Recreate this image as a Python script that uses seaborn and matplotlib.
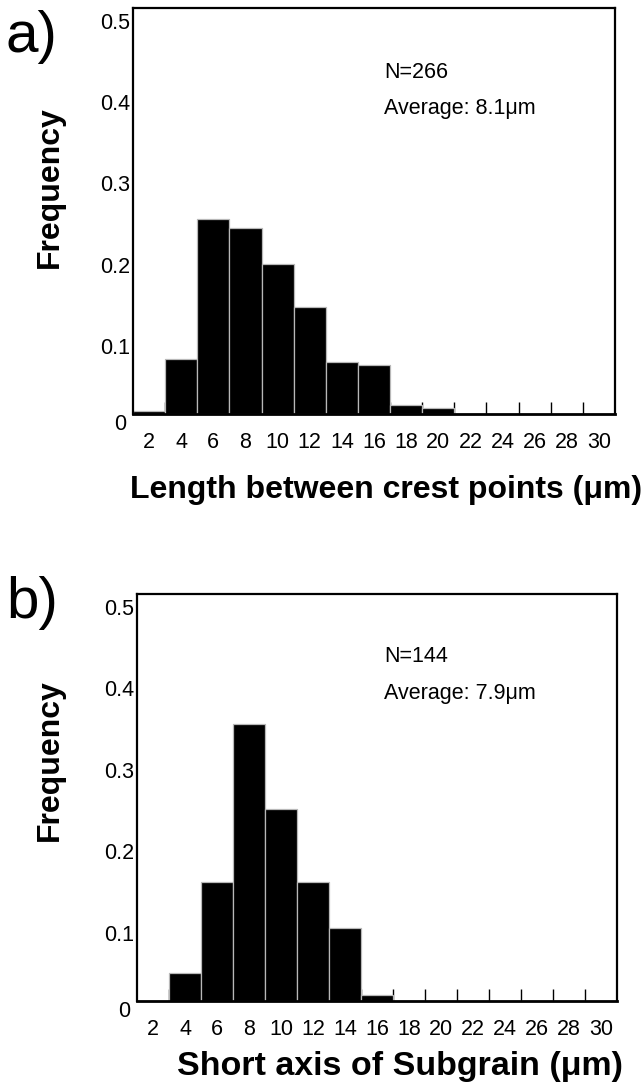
import matplotlib
matplotlib.use("Agg")
import matplotlib.pyplot as plt
import matplotlib.transforms as mtransforms
from matplotlib.ticker import FixedLocator
import seaborn as sns

# Bin labels (µm) shared by both histograms
bins = ["2", "4", "6", "8", "10", "12", "14", "16", "18", "20",
        "22", "24", "26", "28", "30"]

# a) length between crest points, N=266 (counts / N)
freq_crest = [1/266, 18/266, 64/266, 61/266, 49/266, 35/266, 17/266,
              16/266, 3/266, 2/266, 0, 0, 0, 0, 0]
# b) short axis of subgrain, N=144 (counts / N)
freq_sub = [0, 5/144, 21/144, 49/144, 34/144, 21/144, 13/144,
            1/144, 0, 0, 0, 0, 0, 0, 0]

panel_tags = ["a)", "b)"]
xlabels = ["Length between crest points (\u03bcm)",
           "Short axis of Subgrain (\u03bcm)"]
n_texts = ["N=266", "N=144"]
avg_texts = ["Average: 8.1\u03bcm", "Average: 7.9\u03bcm"]
yticks = [0, 0.1, 0.2, 0.3, 0.4, 0.5]
ytick_labels = ["0", "0.1", "0.2", "0.3", "0.4", "0.5"]

sns.set_theme(style="white")
plt.rcParams["font.family"] = ["Liberation Sans", "DejaVu Sans"]

W, H = 642, 1086
fig = plt.figure(figsize=(W / 100, H / 100), dpi=100)


def box(l, t, r, b):
    return [l / W, 1 - b / H, (r - l) / W, (b - t) / H]


def fx(px):
    return px / W


def fy(py):
    return 1 - py / H


panels = [
    dict(box=box(133, 8, 615, 414), data=freq_crest,
         xlab_xy=(386, 490), xlab_fs=23, ylab_xy=(50, 187),
         tag_xy=(6, 10), n_y=78, avg_y=114),
    dict(box=box(137, 594, 617, 1001), data=freq_sub,
         xlab_xy=(400, 1067), xlab_fs=24.5, ylab_xy=(50, 760),
         tag_xy=(6, 576), n_y=662, avg_y=699),
]

tick_fs = 15.5
label_fs = 23

for k, p in enumerate(panels):
    ax = fig.add_axes(p["box"])
    sns.barplot(x=bins, y=p["data"], order=bins, color="black",
                saturation=1, width=1.0, edgecolor="#b8b8b8",
                linewidth=0.9, ax=ax)
    ax.set_xlim(-0.5, len(bins) - 0.5)
    ax.set_ylim(0, 0.5)
    ax.set_axisbelow(True)
    ax.grid(False)
    for sp in ax.spines.values():
        sp.set_visible(True)
        sp.set_color("black")
        sp.set_linewidth(1.6)
    ax.spines["bottom"].set_linewidth(2.0)

    # y ticks pointing inward, labels sitting just below each tick
    ax.set_yticks(yticks)
    ax.set_yticklabels(ytick_labels, fontsize=tick_fs)
    ax.tick_params(axis="y", direction="in", length=8, width=1.0,
                   color="black", pad=2, labelcolor="black")
    for lab in ax.get_yticklabels():
        if lab.get_text() == "0":
            dx, dy = -4, 8
        else:
            dx, dy = 0, 13
        off = mtransforms.ScaledTranslation(dx / 100, -dy / 100,
                                            fig.dpi_scale_trans)
        lab.set_transform(lab.get_transform() + off)

    # bin labels under bar centres, small ticks at bin boundaries
    ax.set_xticks(range(len(bins)))
    ax.set_xticklabels(bins, fontsize=tick_fs)
    ax.xaxis.set_minor_locator(
        FixedLocator([i + 0.5 for i in range(len(bins) - 1)]))
    ax.tick_params(axis="x", which="major", length=0, pad=13,
                   labelcolor="black")
    ax.tick_params(axis="x", which="minor", direction="in", length=9,
                   width=1.0, color="black", bottom=True)

    ax.set_xlabel(xlabels[k], fontsize=p["xlab_fs"], fontweight="bold",
                  color="black")
    ax.xaxis.label.set_va("center")
    ax.xaxis.set_label_coords(fx(p["xlab_xy"][0]), fy(p["xlab_xy"][1]),
                              transform=fig.transFigure)
    ax.set_ylabel("Frequency", fontsize=label_fs, fontweight="bold",
                  color="black")
    ax.yaxis.label.set_va("center")
    ax.yaxis.set_label_coords(fx(p["ylab_xy"][0]), fy(p["ylab_xy"][1]),
                              transform=fig.transFigure)

    fig.text(fx(p["tag_xy"][0]), fy(p["tag_xy"][1]), panel_tags[k],
             fontsize=42, va="top", ha="left", color="black")
    fig.text(fx(384), fy(p["n_y"]), n_texts[k], fontsize=tick_fs,
             va="baseline", ha="left", color="black")
    fig.text(fx(384), fy(p["avg_y"]), avg_texts[k], fontsize=tick_fs,
             va="baseline", ha="left", color="black")

fig.savefig("out.png", dpi=100, facecolor="white")
